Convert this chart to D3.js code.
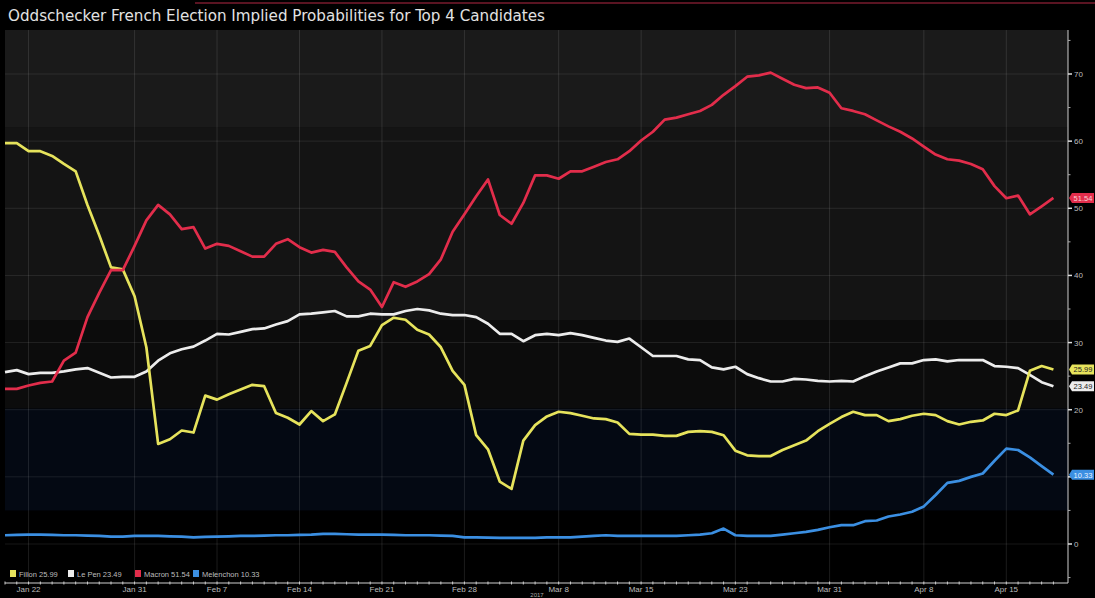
<!DOCTYPE html>
<html><head><meta charset="utf-8">
<script src="https://cdn.jsdelivr.net/npm/d3@7"></script>
<style>body{margin:0;background:#000;overflow:hidden} svg{display:block}</style>
</head><body>
<svg id="c" width="1095" height="598"></svg>
<script>
const titleText = "Oddschecker French Election Implied Probabilities for Top 4 Candidates";
const startDate = "2017-01-20";
const endDate = "2017-04-20";
const fillon = [59.7,59.7,58.5,58.5,57.8,56.6,55.5,50.5,46,41.2,40.9,36.9,29.3,14.9,15.6,16.9,16.6,22.1,21.5,22.3,23,23.7,23.5,
  19.5,18.8,17.8,19.8,18.3,19.3,24,28.8,29.5,32.6,33.7,33.4,31.9,31.2,29.3,25.8,23.7,16.2,14.1,9.3,8.2,15.4,17.7,
  19.0,19.7,19.5,19.1,18.7,18.6,18.1,16.4,16.3,16.3,16.1,16.1,16.7,16.8,16.7,16.2,13.9,13.2,13.1,13.1,14.0,14.7,15.4,16.8,
  17.9,18.9,19.7,19.2,19.2,18.3,18.6,19.1,19.4,19.2,18.3,17.8,18.2,18.4,19.4,19.2,19.9,25.8,26.5,25.99];
const lepen = [25.6,25.9,25.3,25.5,25.5,25.7,26.0,26.2,25.5,24.8,24.9,24.9,25.7,27.3,28.4,29.0,29.4,30.3,31.3,31.2,31.6,32.0,32.1,
  32.7,33.2,34.2,34.3,34.5,34.7,33.9,33.9,34.3,34.2,34.2,34.7,35.0,34.8,34.3,34.1,34.1,33.8,32.8,31.3,31.3,30.2,31.1,
  31.3,31.1,31.4,31.1,30.7,30.3,30.1,30.6,29.3,28.0,28.0,28.0,27.5,27.4,26.3,26.0,26.4,25.3,24.7,24.2,24.2,24.6,24.5,24.3,
  24.2,24.3,24.2,25.0,25.7,26.3,26.9,26.9,27.4,27.5,27.2,27.4,27.4,27.4,26.5,26.4,26.2,25.2,24.1,23.49];
const macron = [23.1,23.1,23.6,24.0,24.2,27.3,28.5,33.8,37.4,40.8,40.8,44.4,48.2,50.5,49.1,46.9,47.2,44.0,44.7,44.4,43.6,42.8,42.8,
  44.7,45.4,44.2,43.4,43.8,43.5,41.2,39.1,37.9,35.3,39.0,38.3,39.1,40.2,42.4,46.5,49.1,51.8,54.3,49.0,47.7,50.8,54.9,
  54.9,54.4,55.5,55.5,56.2,56.9,57.3,58.5,60.1,61.4,63.2,63.5,64.0,64.5,65.4,66.9,68.2,69.6,69.8,70.2,69.3,68.4,67.9,68.0,
  67.2,64.9,64.5,64.0,63.1,62.2,61.4,60.4,59.2,58.0,57.3,57.1,56.6,55.8,53.3,51.5,51.9,49.1,50.3,51.54];
const melenchon = [1.3,1.35,1.4,1.4,1.35,1.3,1.3,1.25,1.2,1.1,1.1,1.2,1.2,1.2,1.15,1.1,1.0,1.05,1.1,1.15,1.2,1.2,1.25,
  1.3,1.3,1.35,1.4,1.5,1.5,1.45,1.4,1.4,1.4,1.35,1.3,1.3,1.3,1.25,1.2,1.0,1.0,0.95,0.9,0.9,0.9,0.9,
  1.0,1.0,1.0,1.1,1.2,1.3,1.2,1.2,1.2,1.2,1.2,1.2,1.3,1.4,1.6,2.3,1.3,1.2,1.2,1.2,1.4,1.6,1.8,2.1,
  2.5,2.8,2.8,3.4,3.5,4.1,4.4,4.8,5.6,7.3,9.1,9.4,10.0,10.5,12.4,14.2,14.0,12.9,11.6,10.33];
const seriesNames = ["Fillon","Le Pen","Macron","Melenchon"];
const seriesColors = ["#e6e35c","#ececec","#e22d4b","#3b8fe2"];
const tagTextColors = ["#222","#222","#f6d0d6","#e8f2ff"];
const tickDates = ["2017-01-22","2017-01-31","2017-02-07","2017-02-14","2017-02-21","2017-02-28","2017-03-08","2017-03-15","2017-03-23","2017-03-31","2017-04-08","2017-04-15"];
const tickLabels = ["Jan 22","Jan 31","Feb 7","Feb 14","Feb 21","Feb 28","Mar 8","Mar 15","Mar 23","Mar 31","Apr 8","Apr 15"];
const yTicks = [0,10,20,30,40,50,60,70];
const yMinor = [-5,5,15,25,35,45,55,65,75];
const bandEdges = [-10, 5, 20.2, 33.3, 62, 80];
const bandColors = ["#000000","#040913","#0c0c0c","#141414","#1a1a1a"];

const allSeries = [fillon, lepen, macron, melenchon];
const parse = d3.timeParse("%Y-%m-%d");
const t0 = parse(startDate);
const svg = d3.select("#c");
const W = 1095, H = 598;
const plotL = 5, plotR = 1068, plotT = 30, plotB = 583;

const x = d3.scaleTime().domain([t0, parse(endDate)]).range([5, 1065.2]);
const y = d3.scaleLinear().domain([0, 70]).range([544, 74]);

svg.append("rect").attr("width", W).attr("height", H).attr("fill", "#000");
svg.append("line").attr("x1", 195).attr("x2", W).attr("y1", 3).attr("y2", 3).attr("stroke", "#5a1422").attr("stroke-width", 2);
svg.append("text").attr("x", 8).attr("y", 21).attr("fill", "#e2e2e2")
  .attr("font-family", "'DejaVu Sans Condensed','Liberation Sans',sans-serif").attr("font-size", 15)
  .attr("textLength", 537).attr("lengthAdjust", "spacingAndGlyphs").text(titleText);

// bands
const clipG = svg.append("g");
for (let i = 0; i < bandColors.length; i++) {
  const yTop = Math.max(plotT, y(bandEdges[i + 1]));
  const yBot = Math.min(plotB, y(bandEdges[i]));
  clipG.append("rect").attr("x", plotL).attr("width", plotR - plotL)
    .attr("y", yTop).attr("height", yBot - yTop).attr("fill", bandColors[i]);
}
svg.append("g").selectAll("line").data(yTicks).join("line")
  .attr("x1", plotL).attr("x2", plotR).attr("y1", d => y(d)).attr("y2", d => y(d))
  .attr("stroke", "rgba(255,255,255,0.09)").attr("stroke-width", 1);
svg.append("g").selectAll("line").data(tickDates).join("line")
  .attr("x1", d => x(parse(d))).attr("x2", d => x(parse(d))).attr("y1", plotT).attr("y2", plotB)
  .attr("stroke", "rgba(255,255,255,0.11)").attr("stroke-width", 1);

// lines
const line = d3.line().x((d, i) => x(d3.timeDay.offset(t0, i))).y(d => y(d));
const order = [3, 1, 0, 2];
order.forEach(k => {
  svg.append("path").datum(allSeries[k]).attr("d", line).attr("fill", "none")
    .attr("stroke", seriesColors[k]).attr("stroke-width", 2.7).attr("stroke-linejoin", "round");
});

// x axis
const xAxisG = svg.append("g").attr("transform", `translate(0,${plotB})`);
xAxisG.append("line").attr("x1", plotL).attr("x2", plotR).attr("stroke", "#cfcfcf").attr("stroke-width", 1);
const days = d3.timeDay.range(t0, parse(endDate));
xAxisG.selectAll("line.tk").data(days).join("line").attr("class", "tk")
  .attr("x1", d => x(d)).attr("x2", d => x(d)).attr("y1", -1.5).attr("y2", 1.5)
  .attr("stroke", "#cfcfcf").attr("stroke-width", 1);
xAxisG.selectAll("text").data(tickDates).join("text")
  .attr("x", d => x(parse(d))).attr("y", 9).attr("text-anchor", "middle")
  .attr("fill", "#bdbdbd").attr("font-family", "'Liberation Sans',Arial,sans-serif").attr("font-size", 8)
  .text((d, i) => tickLabels[i]);
svg.append("text").attr("x", 537).attr("y", 597).attr("text-anchor", "middle").attr("fill", "#aaa")
  .attr("font-family", "'Liberation Sans',Arial,sans-serif").attr("font-size", 6).text("2017");

// y axis (right)
const yAxisG = svg.append("g").attr("transform", `translate(${plotR},0)`);
yAxisG.append("line").attr("y1", plotT).attr("y2", plotB).attr("stroke", "#cfcfcf").attr("stroke-width", 1);
yAxisG.selectAll("line.mj").data(yTicks).join("line").attr("class", "mj")
  .attr("x1", 0).attr("x2", 4).attr("y1", d => y(d)).attr("y2", d => y(d)).attr("stroke", "#ddd").attr("stroke-width", 1.5);
yAxisG.selectAll("line.mn").data(yMinor.filter(v => y(v) > plotT && y(v) < plotB)).join("line").attr("class", "mn")
  .attr("x1", 0).attr("x2", 2.5).attr("y1", d => y(d)).attr("y2", d => y(d)).attr("stroke", "#aaa").attr("stroke-width", 1);
// tick labels hidden behind a value tag in the reference are not drawn on top of it
const lastVals = allSeries.map(s => s[s.length - 1]);
yAxisG.selectAll("text").data(yTicks.filter(t => !lastVals.some(v => Math.abs(y(v) - y(t)) < 6))).join("text")
  .attr("x", 6).attr("y", d => y(d) + 3).attr("fill", "#bdbdbd")
  .attr("font-family", "'Liberation Sans',Arial,sans-serif").attr("font-size", 8).text(d => d);

// value tags
allSeries.forEach((s, k) => {
  const v = s[s.length - 1];
  const cy = y(v);
  const g = svg.append("g");
  g.append("path").attr("d", `M${plotR + 1},${cy} L${plotR + 4},${cy - 5} L${plotR + 26},${cy - 5} L${plotR + 26},${cy + 5} L${plotR + 4},${cy + 5} Z`)
    .attr("fill", seriesColors[k]);
  g.append("text").attr("x", plotR + 15).attr("y", cy + 3).attr("text-anchor", "middle")
    .attr("fill", tagTextColors[k]).attr("font-family", "'Liberation Sans',Arial,sans-serif").attr("font-size", 7.5)
    .text(v.toFixed(2));
});

// legend
const legendX = [10, 68, 135, 193];
const lg = svg.append("g");
seriesNames.forEach((n, k) => {
  const s = allSeries[k];
  lg.append("rect").attr("x", legendX[k]).attr("y", 570).attr("width", 6).attr("height", 7).attr("fill", seriesColors[k]);
  lg.append("text").attr("x", legendX[k] + 9).attr("y", 577).attr("fill", "#bdbdbd")
    .attr("font-family", "'Liberation Sans',Arial,sans-serif").attr("font-size", 7.5)
    .text(n + " " + s[s.length - 1].toFixed(2));
});
</script>
</body></html>
